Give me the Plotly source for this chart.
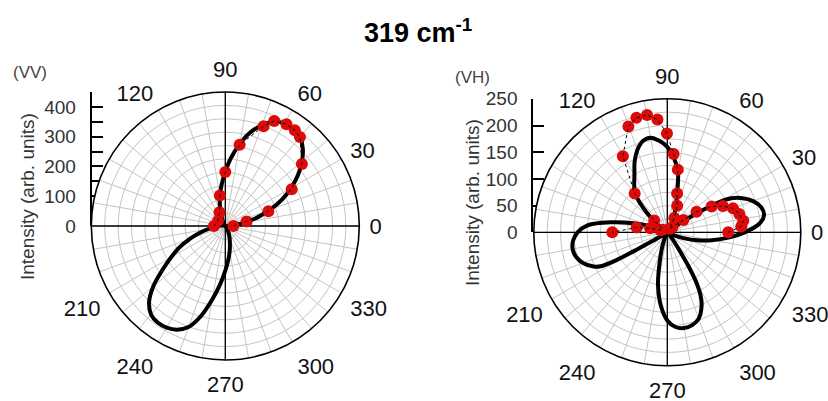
import plotly.graph_objects as go

# ---------------- data ----------------
TITLE = "<b>319 cm<sup>-1</sup></b>"
LABEL_VV = "(VV)"
LABEL_VH = "(VH)"
Y_TITLE = "Intensity (arb. units)"

ANGLE_GRID = list(range(0, 360, 10))
ANGLE_LABELED = [0, 30, 60, 90, 120, 210, 240, 270, 300, 330]

VV_RMAX = 450
VH_RMAX = 250
VV_SCALE_TICKS = [0, 50, 100, 150, 200, 250, 300, 350, 400, 450]
VV_SCALE_TEXT = ["0", "", "100", "", "200", "", "300", "", "400", ""]
VH_SCALE_TICKS = [0, 50, 100, 150, 200, 250]
VH_SCALE_TEXT = ["0", "50", "100", "150", "200", "250"]

# VV measured points
vv_dot_theta = [0, 12, 19, 29, 39, 50, 54, 59, 65, 69, 80, 90, 100, 113, 145, 180]
vv_dot_r = [27, 73, 153, 255, 331, 390, 397, 399, 389, 359, 277, 181, 104, 50, 30, 38]

# VV fitted curve
vv_fit_theta = list(range(0, 365, 5))
vv_fit_r = [8, 28, 68, 112, 160, 210, 255, 298, 336, 368, 390, 400, 398, 386, 360,
            326, 280, 232, 182, 140, 104, 70, 44, 24, 11, 4, 1, 0, 0, 0,
            1, 2, 4, 7, 11, 17, 25, 36, 58, 90, 128, 170, 210, 258, 316,
            362, 388, 396, 394, 384, 361, 312, 250, 196, 150, 114, 85, 60, 42, 27,
            16, 9, 5, 2, 1, 0, 0, 0, 1, 2, 3, 5, 8]

# VH measured points
vh_dot_theta = [0, 4.5, 8.7, 14.3, 20, 25.4, 30.1, 35.2, 37.6, 45, 55, 64, 69.5, 75.8,
                80.5, 85.4, 90.2, 95, 99.8, 105.1, 110.2, 120.3, 130, 138, 150, 162,
                167, 171, 180]
vh_dot_r = [114, 139, 144, 139, 131, 115, 96, 67, 38, 14, 8, 30, 53, 75,
            119, 147, 185, 212, 223, 222, 211, 165, 95, 33, 10, 14,
            33, 58, 103]

# VH fitted curve
vh_fit_theta = [0, 5, 10, 15, 20, 25, 28, 30, 31.5, 33, 35, 40, 45, 50, 55, 60, 65, 70,
                75, 80, 85, 90, 95, 100, 105, 110, 115, 120, 125, 130, 135, 140, 145,
                150, 155, 160, 165, 170, 175, 180, 185, 190, 195, 200, 205, 207, 208.5,
                209.5, 210.5, 213, 220, 230, 240, 245, 250, 255, 260, 265, 270, 275,
                280, 285, 290, 295, 298, 300, 302, 304, 307, 312, 320, 330, 335, 340,
                345, 350, 355, 360]
vh_fit_r = [145, 172, 184, 182, 171, 152, 136, 116, 90, 60, 32, 9, 2, 1, 5, 15, 28, 42,
            70, 115, 140, 160, 172, 180, 177, 164, 145, 123, 108, 92, 62, 32, 12,
            4, 10, 32, 66, 108, 150, 168, 177, 180, 177, 168, 152, 140, 112,
            68, 28, 10, 2, 0, 3, 10, 25, 53, 100, 138, 165, 178,
            182, 180, 172, 152, 132, 110, 75, 40, 18, 6, 1, 4, 14, 32,
            58, 85, 115, 145]

# ---------------- layout geometry (pixels) ----------------
W, H = 828, 401
FONT = "Liberation Sans, Arial, sans-serif"
L_CX, L_CY, L_R = 225.3, 226.0, 134.0
R_CX, R_CY, R_R = 667.3, 232.3, 133.5
L_BAR_X = 91.7
R_BAR_X = 533.3


def polar_domain(cx, cy, r):
    return dict(x=[(cx - r) / W, (cx + r) / W], y=[1 - (cy + r) / H, 1 - (cy - r) / H])


RED = "#dd0a0a"
GRID = "#c4c4c4"

ang_text = [str(a) if a in ANGLE_LABELED else "" for a in ANGLE_GRID]

fig = go.Figure()


def add_panel(sub, rmax, fit_t, fit_r, dot_t, dot_r):
    # crosshair axes through the centre
    for th in ([0, 180], [90, 270]):
        fig.add_trace(go.Scatterpolar(theta=th, r=[rmax, rmax], mode="lines",
                                      line=dict(color="black", width=1.3),
                                      subplot=sub, showlegend=False, hoverinfo="skip"))
    fig.add_trace(go.Scatterpolar(theta=fit_t, r=fit_r, mode="lines",
                                  line=dict(color="black", width=4, shape="spline", smoothing=0.8),
                                  subplot=sub, showlegend=False))
    fig.add_trace(go.Scatterpolar(theta=dot_t, r=dot_r, mode="markers",
                                  marker=dict(color=RED, size=12, line=dict(width=0)),
                                  subplot=sub, showlegend=False))
    fig.add_trace(go.Scatterpolar(theta=dot_t, r=dot_r, mode="lines",
                                  line=dict(color="black", width=1, dash="dot"),
                                  subplot=sub, showlegend=False, hoverinfo="skip"))


add_panel("polar", VV_RMAX, vv_fit_theta, vv_fit_r, vv_dot_theta, vv_dot_r)
add_panel("polar2", VH_RMAX, vh_fit_theta, vh_fit_r, vh_dot_theta, vh_dot_r)

# dummy traces so the scale-bar axes are drawn
fig.add_trace(go.Scatter(x=[0, 0], y=[0, VV_RMAX], mode="none", xaxis="x", yaxis="y",
                         showlegend=False, hoverinfo="skip"))
fig.add_trace(go.Scatter(x=[0, 0], y=[0, VH_RMAX], mode="none", xaxis="x2", yaxis="y2",
                         showlegend=False, hoverinfo="skip"))


def polar_layout(cx, cy, r, rmax):
    return dict(
        domain=polar_domain(cx, cy, r),
        bgcolor="white",
        angularaxis=dict(
            tickmode="array", tickvals=ANGLE_GRID, ticktext=ang_text,
            rotation=0, direction="counterclockwise",
            showline=True, linecolor="black", linewidth=1.6,
            showgrid=True, gridcolor=GRID, gridwidth=1,
            ticks="outside", ticklen=5, tickcolor="rgba(0,0,0,0)",
            tickfont=dict(size=22, color="#111", family=FONT),
        ),
        radialaxis=dict(
            range=[0, rmax], dtick=rmax / 10, showticklabels=False, ticks="",
            showline=False, showgrid=True, gridcolor=GRID, gridwidth=1,
        ),
    )


def scale_axis(cy, r, rmax, ticks, text, anchor):
    return dict(
        domain=[1 - cy / H, 1 - (cy - r) / H], range=[0, rmax], anchor=anchor,
        showline=True, linecolor="black", linewidth=2, ticks="inside", ticklen=11,
        tickwidth=1.6, tickcolor="black", tickmode="array", tickvals=ticks, ticktext=text,
        tickfont=dict(size=19, color="#333", family=FONT), showgrid=False, zeroline=False,
        ticklabelstandoff=10, fixedrange=True,
    )


def ann(text, x, y, size, color, angle=0):
    return dict(text=text, x=x / W, y=1 - y / H, xref="paper", yref="paper",
                xanchor="center", yanchor="middle", textangle=angle, showarrow=False,
                font=dict(size=size, color=color, family=FONT))


fig.update_layout(
    width=W, height=H, margin=dict(l=0, r=0, t=0, b=0),
    paper_bgcolor="white", plot_bgcolor="rgba(0,0,0,0)",
    template="none",
    font=dict(family=FONT, color="#111"),
    polar=polar_layout(L_CX, L_CY, L_R, VV_RMAX),
    polar2=polar_layout(R_CX, R_CY, R_R, VH_RMAX),
    xaxis=dict(domain=[L_BAR_X / W, L_BAR_X / W + 0.01], visible=False, range=[0, 1]),
    xaxis2=dict(domain=[R_BAR_X / W, R_BAR_X / W + 0.01], visible=False, range=[0, 1]),
    yaxis=scale_axis(L_CY, L_R, VV_RMAX, VV_SCALE_TICKS, VV_SCALE_TEXT, "x"),
    yaxis2=scale_axis(R_CY, R_R, VH_RMAX, VH_SCALE_TICKS, VH_SCALE_TEXT, "x2"),
    showlegend=False,
    annotations=[
        ann(TITLE, 418, 31, 27, "black"),
        ann(LABEL_VV, 30, 72, 17, "#4a4242"),
        ann(LABEL_VH, 472, 77, 17, "#4a4242"),
        ann(Y_TITLE, 28, 197, 19, "#333", -90),
        ann(Y_TITLE, 472, 203, 19, "#333", -90),
    ],
)

fig.write_html("out.html")
